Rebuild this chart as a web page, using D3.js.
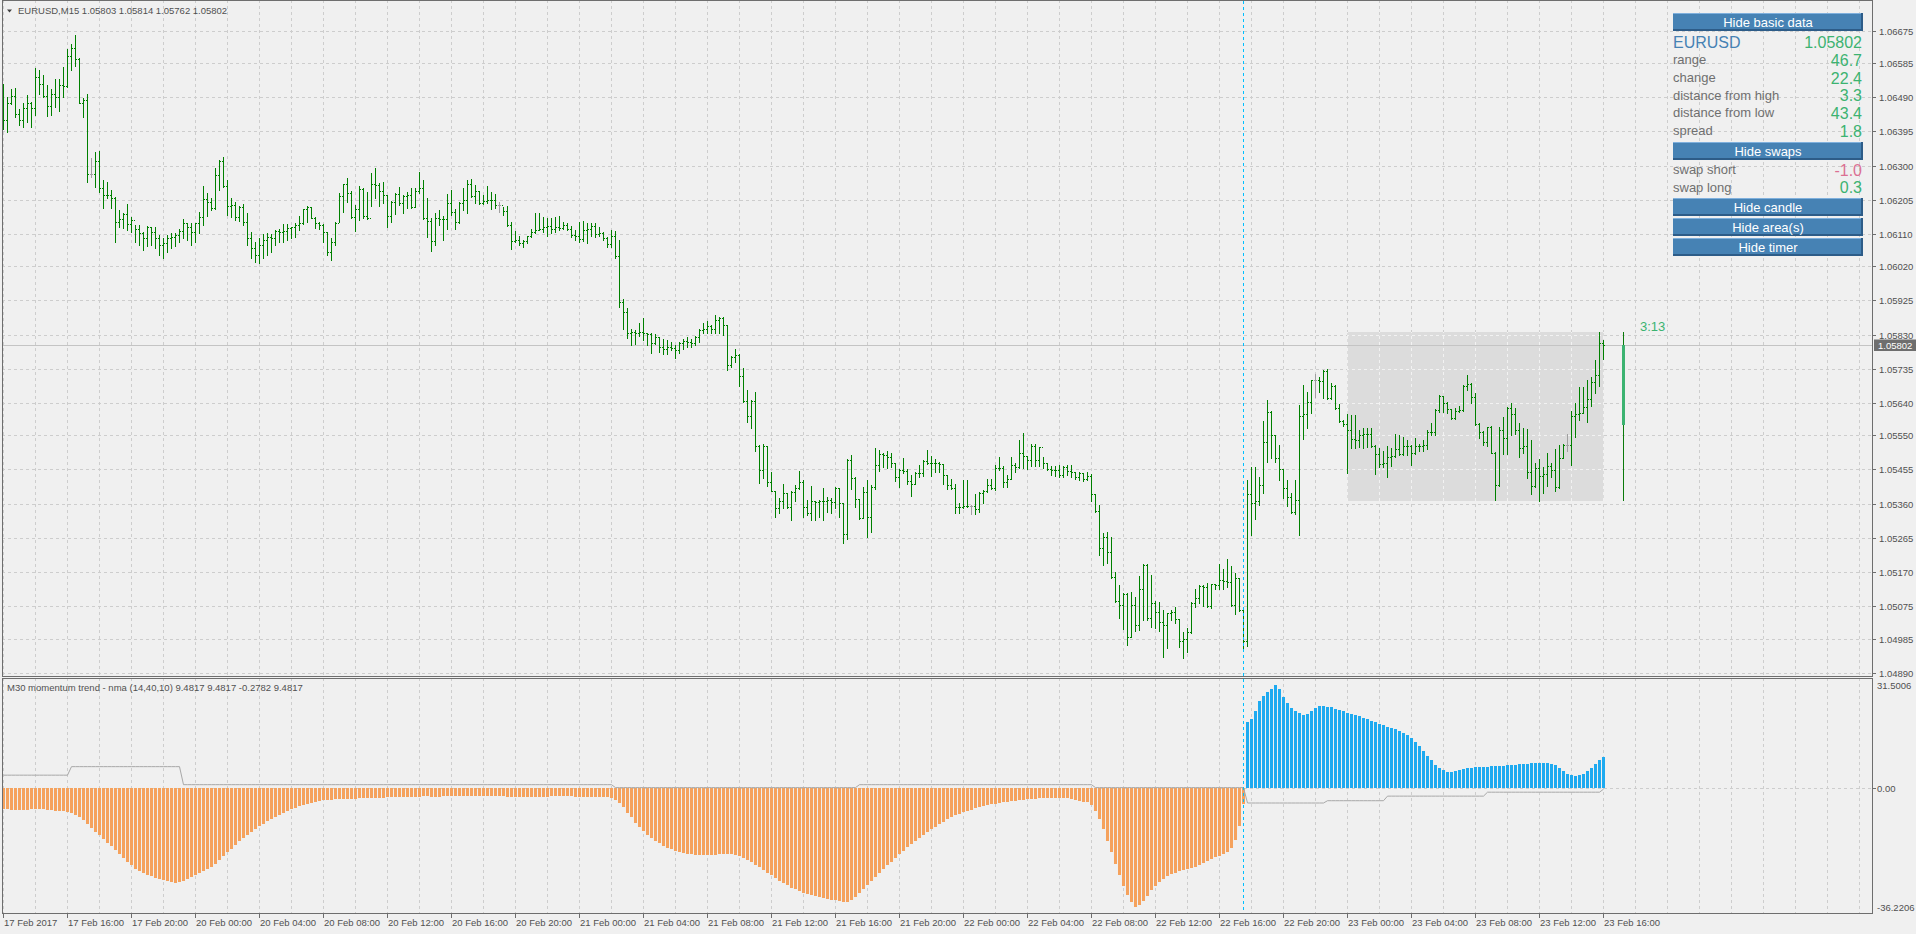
<!DOCTYPE html>
<html lang="en">
<head>
<meta charset="utf-8">
<title>EURUSD,M15</title>
<script src="https://cdn.jsdelivr.net/npm/d3@7/dist/d3.min.js"></script>
<style>
  body { margin: 0; background: #f0f0f0; overflow: hidden; }
  text { font-family: "Liberation Sans", Arial, sans-serif; }
  .ax { font-size: 9.5px; fill: #505050; }
</style>
</head>
<body>
<script>
// EURUSD M15 bars, 17 Feb 12:00 .. 23 Feb 16:00 (open of a bar = close of the previous one)
const firstOpen = 1.06430;
const highs = [
1.06526,1.06491,1.06513,1.06517,1.06457,1.06473,1.06495,1.06476,1.06572,1.06566,1.06552,1.06524,1.06513,1.06540,1.06540,1.06574,1.06624,1.06638,1.06663,1.06598,
1.06487,1.06499,1.06320,1.06337,1.06341,1.06260,1.06255,1.06232,1.06214,1.06177,1.06167,1.06192,1.06158,1.06135,1.06135,1.06116,1.06132,1.06130,1.06130,1.06107,
1.06098,1.06107,1.06112,1.06112,1.06123,1.06152,1.06141,1.06140,1.06141,1.06172,1.06243,1.06223,1.06209,1.06294,1.06316,1.06324,1.06260,1.06209,1.06200,1.06188,
1.06192,1.06167,1.06116,1.06088,1.06098,1.06109,1.06113,1.06111,1.06121,1.06123,1.06137,1.06137,1.06130,1.06139,1.06161,1.06180,1.06188,1.06186,1.06158,1.06142,
1.06137,1.06116,1.06098,1.06144,1.06223,1.06250,1.06265,1.06230,1.06190,1.06243,1.06239,1.06227,1.06280,1.06292,1.06251,1.06255,1.06218,1.06202,1.06223,1.06241,
1.06218,1.06227,1.06239,1.06237,1.06283,1.06260,1.06209,1.06153,1.06169,1.06176,1.06160,1.06220,1.06232,1.06178,1.06200,1.06239,1.06260,1.06264,1.06246,1.06230,
1.06218,1.06243,1.06226,1.06221,1.06200,1.06186,1.06188,1.06142,1.06118,1.06104,1.06093,1.06105,1.06123,1.06167,1.06169,1.06156,1.06153,1.06153,1.06158,1.06160,
1.06144,1.06139,1.06132,1.06121,1.06144,1.06146,1.06141,1.06141,1.06141,1.06130,1.06116,1.06101,1.06121,1.06119,1.06093,1.05928,1.05903,1.05847,1.05843,1.05863,
1.05875,1.05835,1.05834,1.05832,1.05824,1.05817,1.05815,1.05810,1.05801,1.05810,1.05817,1.05822,1.05817,1.05826,1.05845,1.05861,1.05869,1.05857,1.05885,1.05878,
1.05880,1.05857,1.05771,1.05789,1.05776,1.05736,1.05676,1.05648,1.05671,1.05523,1.05526,1.05520,1.05449,1.05396,1.05375,1.05415,1.05389,1.05396,1.05412,1.05451,
1.05426,1.05370,1.05409,1.05368,1.05370,1.05403,1.05379,1.05375,1.05405,1.05404,1.05361,1.05483,1.05495,1.05433,1.05372,1.05407,1.05426,1.05412,1.05514,1.05509,
1.05502,1.05506,1.05500,1.05474,1.05456,1.05486,1.05455,1.05440,1.05449,1.05467,1.05481,1.05509,1.05492,1.05484,1.05476,1.05470,1.05441,1.05429,1.05415,1.05361,
1.05426,1.05426,1.05356,1.05386,1.05393,1.05398,1.05429,1.05429,1.05467,1.05491,1.05465,1.05441,1.05489,1.05472,1.05537,1.05557,1.05492,1.05526,1.05526,1.05518,
1.05489,1.05474,1.05465,1.05465,1.05467,1.05465,1.05467,1.05467,1.05449,1.05449,1.05446,1.05449,1.05442,1.05387,1.05356,1.05279,1.05282,1.05268,1.05171,1.05134,
1.05111,1.05111,1.05115,1.05101,1.05159,1.05191,1.05192,1.05162,1.05090,1.05087,1.05064,1.05057,1.05064,1.05073,1.05038,1.05004,1.05013,1.05087,1.05122,1.05134,
1.05134,1.05140,1.05138,1.05138,1.05192,1.05177,1.05205,1.05187,1.05168,1.05154,1.05064,1.05426,1.05463,1.05463,1.05435,1.05591,1.05648,1.05619,1.05551,1.05523,
1.05455,1.05426,1.05389,1.05426,1.05634,1.05690,1.05671,1.05705,1.05720,1.05713,1.05732,1.05734,1.05695,1.05689,1.05636,1.05593,1.05610,1.05607,1.05607,1.05565,
1.05569,1.05569,1.05569,1.05523,1.05514,1.05506,1.05519,1.05514,1.05554,1.05551,1.05546,1.05537,1.05522,1.05542,1.05525,1.05537,1.05565,1.05585,1.05623,1.05662,
1.05660,1.05644,1.05624,1.05625,1.05632,1.05690,1.05718,1.05695,1.05667,1.05583,1.05562,1.05573,1.05576,1.05504,1.05574,1.05602,1.05628,1.05639,1.05627,1.05583,
1.05571,1.05567,1.05537,1.05474,1.05483,1.05463,1.05500,1.05474,1.05511,1.05523,1.05526,1.05554,1.05619,1.05641,1.05683,1.05684,1.05704,1.05711,1.05759,1.05838,
1.05814];
const lows = [
1.06402,1.06393,1.06472,1.06436,1.06413,1.06408,1.06420,1.06408,1.06441,1.06499,1.06490,1.06439,1.06441,1.06464,1.06453,1.06492,1.06519,1.06566,1.06578,1.06473,
1.06436,1.06255,1.06269,1.06241,1.06227,1.06183,1.06209,1.06183,1.06088,1.06130,1.06126,1.06121,1.06114,1.06088,1.06079,1.06065,1.06075,1.06079,1.06072,1.06051,
1.06042,1.06061,1.06070,1.06075,1.06088,1.06098,1.06093,1.06079,1.06088,1.06112,1.06135,1.06161,1.06177,1.06179,1.06232,1.06241,1.06163,1.06158,1.06149,1.06146,
1.06135,1.06079,1.06042,1.06033,1.06028,1.06042,1.06051,1.06061,1.06079,1.06088,1.06088,1.06093,1.06098,1.06102,1.06121,1.06137,1.06144,1.06153,1.06126,1.06124,
1.06088,1.06051,1.06037,1.06079,1.06144,1.06172,1.06200,1.06155,1.06119,1.06149,1.06153,1.06151,1.06188,1.06209,1.06188,1.06195,1.06130,1.06144,1.06165,1.06190,
1.06167,1.06183,1.06183,1.06186,1.06223,1.06151,1.06102,1.06063,1.06079,1.06135,1.06093,1.06124,1.06163,1.06124,1.06141,1.06176,1.06167,1.06213,1.06197,1.06193,
1.06193,1.06195,1.06178,1.06181,1.06172,1.06163,1.06133,1.06067,1.06088,1.06079,1.06074,1.06086,1.06101,1.06112,1.06121,1.06116,1.06104,1.06112,1.06116,1.06121,
1.06125,1.06121,1.06101,1.06093,1.06088,1.06091,1.06086,1.06104,1.06102,1.06104,1.06093,1.06074,1.06074,1.06042,1.05908,1.05847,1.05820,1.05801,1.05804,1.05826,
1.05815,1.05801,1.05780,1.05804,1.05783,1.05776,1.05776,1.05787,1.05764,1.05778,1.05789,1.05796,1.05796,1.05801,1.05810,1.05834,1.05835,1.05834,1.05834,1.05835,
1.05829,1.05733,1.05741,1.05755,1.05687,1.05644,1.05588,1.05569,1.05507,1.05418,1.05430,1.05409,1.05394,1.05324,1.05333,1.05347,1.05347,1.05315,1.05366,1.05400,
1.05324,1.05328,1.05315,1.05315,1.05324,1.05315,1.05338,1.05333,1.05347,1.05324,1.05251,1.05261,1.05400,1.05350,1.05316,1.05319,1.05268,1.05282,1.05400,1.05452,
1.05461,1.05458,1.05461,1.05424,1.05407,1.05446,1.05416,1.05381,1.05416,1.05433,1.05437,1.05470,1.05438,1.05449,1.05447,1.05414,1.05400,1.05401,1.05335,1.05335,
1.05347,1.05350,1.05331,1.05330,1.05338,1.05363,1.05393,1.05400,1.05398,1.05454,1.05407,1.05405,1.05428,1.05449,1.05458,1.05458,1.05457,1.05465,1.05465,1.05465,
1.05458,1.05454,1.05440,1.05437,1.05433,1.05433,1.05440,1.05433,1.05428,1.05426,1.05424,1.05426,1.05368,1.05338,1.05217,1.05189,1.05194,1.05152,1.05087,1.05041,
1.05011,1.04967,1.04990,1.05007,1.05009,1.05036,1.05036,1.05016,1.05013,1.05007,1.04934,1.04960,1.05036,1.05027,1.04962,1.04930,1.04948,1.05001,1.05072,1.05083,
1.05075,1.05074,1.05069,1.05124,1.05124,1.05122,1.05129,1.05076,1.05053,1.05062,1.04953,1.04964,1.05273,1.05317,1.05356,1.05389,1.05477,1.05486,1.05477,1.05426,
1.05375,1.05354,1.05335,1.05331,1.05273,1.05539,1.05570,1.05611,1.05656,1.05671,1.05653,1.05651,1.05651,1.05623,1.05586,1.05576,1.05446,1.05514,1.05514,1.05517,
1.05514,1.05517,1.05518,1.05442,1.05463,1.05463,1.05435,1.05465,1.05491,1.05495,1.05495,1.05495,1.05468,1.05499,1.05507,1.05507,1.05511,1.05551,1.05551,1.05616,
1.05616,1.05613,1.05595,1.05595,1.05616,1.05618,1.05676,1.05641,1.05579,1.05542,1.05523,1.05520,1.05500,1.05370,1.05409,1.05498,1.05497,1.05551,1.05553,1.05491,
1.05502,1.05430,1.05386,1.05407,1.05368,1.05391,1.05409,1.05435,1.05396,1.05403,1.05487,1.05506,1.05468,1.05544,1.05593,1.05612,1.05588,1.05632,1.05669,1.05688,
1.05762];
const closes = [
1.06426,1.06473,1.06494,1.06443,1.06426,1.06459,1.06473,1.06459,1.06545,1.06526,1.06494,1.06466,1.06500,1.06490,1.06524,1.06522,1.06605,1.06628,1.06596,1.06475,
1.06482,1.06276,1.06276,1.06313,1.06239,1.06218,1.06217,1.06209,1.06144,1.06151,1.06164,1.06137,1.06149,1.06124,1.06112,1.06098,1.06129,1.06114,1.06098,1.06079,
1.06084,1.06098,1.06102,1.06107,1.06119,1.06140,1.06129,1.06114,1.06140,1.06158,1.06207,1.06200,1.06181,1.06274,1.06313,1.06243,1.06188,1.06189,1.06158,1.06186,
1.06144,1.06098,1.06070,1.06051,1.06079,1.06093,1.06102,1.06098,1.06118,1.06116,1.06117,1.06126,1.06128,1.06135,1.06139,1.06178,1.06186,1.06155,1.06139,1.06135,
1.06116,1.06061,1.06088,1.06141,1.06215,1.06248,1.06225,1.06156,1.06179,1.06235,1.06160,1.06155,1.06248,1.06246,1.06230,1.06218,1.06160,1.06200,1.06221,1.06195,
1.06216,1.06218,1.06186,1.06230,1.06239,1.06153,1.06146,1.06091,1.06153,1.06152,1.06151,1.06197,1.06172,1.06144,1.06195,1.06204,1.06248,1.06215,1.06229,1.06197,
1.06202,1.06203,1.06204,1.06189,1.06189,1.06175,1.06135,1.06090,1.06093,1.06084,1.06090,1.06103,1.06116,1.06121,1.06125,1.06130,1.06132,1.06123,1.06128,1.06127,
1.06135,1.06125,1.06107,1.06104,1.06095,1.06121,1.06125,1.06132,1.06109,1.06112,1.06098,1.06081,1.06104,1.06049,1.05922,1.05894,1.05835,1.05838,1.05834,1.05838,
1.05834,1.05831,1.05806,1.05824,1.05795,1.05789,1.05795,1.05792,1.05787,1.05808,1.05813,1.05810,1.05808,1.05824,1.05843,1.05845,1.05854,1.05845,1.05872,1.05876,
1.05857,1.05745,1.05769,1.05773,1.05716,1.05646,1.05604,1.05646,1.05520,1.05454,1.05520,1.05421,1.05396,1.05347,1.05368,1.05389,1.05350,1.05393,1.05403,1.05421,
1.05350,1.05333,1.05366,1.05365,1.05368,1.05367,1.05370,1.05364,1.05403,1.05361,1.05277,1.05481,1.05430,1.05372,1.05321,1.05393,1.05324,1.05407,1.05467,1.05498,
1.05495,1.05489,1.05474,1.05433,1.05454,1.05451,1.05423,1.05414,1.05444,1.05446,1.05479,1.05472,1.05474,1.05472,1.05470,1.05441,1.05412,1.05403,1.05350,1.05352,
1.05353,1.05354,1.05354,1.05345,1.05390,1.05396,1.05412,1.05403,1.05458,1.05459,1.05421,1.05428,1.05467,1.05461,1.05502,1.05492,1.05481,1.05520,1.05481,1.05517,
1.05472,1.05456,1.05454,1.05453,1.05440,1.05463,1.05451,1.05449,1.05433,1.05444,1.05428,1.05437,1.05386,1.05340,1.05236,1.05268,1.05226,1.05157,1.05089,1.05078,
1.05109,1.04990,1.05078,1.05024,1.05122,1.05189,1.05043,1.05083,1.05060,1.05030,1.05022,1.05055,1.05060,1.05040,1.04978,1.04985,1.05004,1.05083,1.05097,1.05131,
1.05127,1.05075,1.05137,1.05134,1.05148,1.05145,1.05143,1.05078,1.05152,1.05064,1.04978,1.05386,1.05363,1.05366,1.05412,1.05531,1.05616,1.05551,1.05486,1.05455,
1.05403,1.05378,1.05338,1.05370,1.05604,1.05608,1.05644,1.05704,1.05704,1.05702,1.05730,1.05655,1.05687,1.05625,1.05591,1.05582,1.05565,1.05539,1.05537,1.05551,
1.05554,1.05555,1.05520,1.05497,1.05469,1.05472,1.05491,1.05493,1.05511,1.05497,1.05520,1.05519,1.05500,1.05520,1.05521,1.05523,1.05559,1.05560,1.05620,1.05658,
1.05641,1.05622,1.05597,1.05619,1.05620,1.05687,1.05693,1.05656,1.05581,1.05560,1.05532,1.05572,1.05502,1.05412,1.05565,1.05542,1.05625,1.05608,1.05565,1.05516,
1.05519,1.05447,1.05410,1.05460,1.05438,1.05443,1.05465,1.05453,1.05407,1.05488,1.05523,1.05523,1.05604,1.05608,1.05613,1.05628,1.05650,1.05698,1.05718,1.05808,
1.05802];

// momentum trend histogram (same bars)
const momentum = [
-6.2,-6.4,-6.5,-6.6,-6.7,-6.6,-6.5,-6.4,-6.3,-6.2,-6.3,-6.5,-6.7,-6.9,-7.0,-7.0,-7.2,-7.5,-8.2,-8.8,
-9.8,-10.8,-12.0,-13.2,-14.3,-15.4,-16.6,-17.7,-19.0,-20.2,-21.4,-22.4,-23.5,-24.6,-25.3,-25.9,-26.4,-26.9,-27.3,-27.7,
-28.0,-28.3,-28.6,-28.8,-28.7,-28.2,-27.6,-27.0,-26.5,-26.0,-25.4,-24.8,-24.0,-23.0,-22.0,-20.8,-19.6,-18.4,-17.3,-16.2,
-15.2,-14.2,-13.3,-12.4,-11.6,-10.8,-10.0,-9.3,-8.7,-8.1,-7.5,-6.9,-6.4,-5.9,-5.5,-5.1,-4.7,-4.4,-4.1,-3.9,
-3.7,-3.6,-3.5,-3.4,-3.4,-3.3,-3.3,-3.2,-3.2,-3.1,-3.1,-3.0,-3.0,-2.9,-2.9,-2.9,-2.8,-2.8,-2.8,-2.7,
-2.7,-2.7,-2.6,-2.6,-2.6,-2.5,-2.5,-2.6,-2.6,-2.6,-2.5,-2.5,-2.4,-2.4,-2.4,-2.3,-2.3,-2.3,-2.3,-2.4,
-2.4,-2.4,-2.4,-2.5,-2.5,-2.5,-2.6,-2.7,-2.7,-2.8,-2.8,-2.8,-2.7,-2.7,-2.6,-2.6,-2.6,-2.5,-2.5,-2.5,
-2.5,-2.5,-2.5,-2.6,-2.6,-2.6,-2.6,-2.6,-2.6,-2.7,-2.7,-2.8,-2.9,-3.5,-4.6,-5.8,-7.4,-8.8,-10.5,-11.8,
-13.1,-14.2,-15.2,-16.1,-16.8,-17.5,-18.1,-18.6,-19.1,-19.5,-19.8,-20.0,-20.2,-20.3,-20.4,-20.5,-20.5,-20.4,-20.3,-20.2,
-20.0,-20.0,-20.1,-20.3,-20.7,-21.2,-21.8,-22.5,-23.3,-24.1,-25.0,-25.8,-26.6,-27.4,-28.2,-28.9,-29.6,-30.3,-30.9,-31.4,
-31.9,-32.3,-32.7,-33.0,-33.3,-33.6,-33.8,-34.0,-34.2,-34.4,-34.6,-34.7,-34.2,-33.2,-32.0,-30.8,-29.6,-28.3,-27.0,-25.8,
-24.6,-23.5,-22.4,-21.3,-20.2,-19.1,-18.0,-17.0,-16.0,-15.1,-14.2,-13.3,-12.5,-11.7,-10.9,-10.2,-9.5,-8.9,-8.3,-7.8,
-7.3,-6.9,-6.5,-6.1,-5.8,-5.5,-5.2,-4.9,-4.7,-4.5,-4.3,-4.1,-3.9,-3.8,-3.6,-3.5,-3.4,-3.3,-3.2,-3.1,
-3.1,-3.0,-3.0,-3.0,-3.0,-3.1,-3.1,-3.2,-3.6,-3.9,-4.1,-4.2,-5.0,-7.0,-9.5,-12.5,-16.0,-19.5,-23.0,-26.5,
-29.8,-32.6,-34.8,-36.2206,-35.6,-34.3,-32.8,-31.2,-29.9,-28.7,-27.7,-26.9,-26.3,-25.8,-25.4,-25.0,-24.7,-24.3,-23.9,-23.4,
-22.9,-22.3,-21.7,-21.1,-20.6,-20.1,-19.4,-18.2,-15.8,-11.5,-4.8,20.2,21.3,23.5,26.5,28.3,29.3,30.2,31.5006,30.4,
28.0,25.9,24.4,23.6,22.9,22.5,22.7,23.5,24.4,25.1,25.0,24.7,24.9,24.3,23.9,23.5,23.1,22.8,22.5,22.0,
21.6,21.1,20.5,20.1,19.6,19.2,18.8,18.5,18.1,17.5,17.0,16.2,15.2,14.2,13.0,11.4,9.9,8.6,7.2,6.2,
5.5,5.0,5.0,5.3,5.6,5.9,6.1,6.3,6.4,6.5,6.6,6.6,6.7,6.8,6.8,6.9,7.0,7.1,7.2,7.3,
7.4,7.5,7.6,7.7,7.8,7.8,7.6,7.4,7.0,6.2,5.3,4.5,3.9,3.7,3.9,4.4,5.2,6.3,7.5,8.7,
9.4817];
// thin grey nma line: [first bar, last bar, value]
const nmaSteps = [[0,16,4.0],[17,44,6.6],[45,152,1.1],[153,213,0.2],[214,272,1.1],[273,310,0.2],
  [311,330,-4.5],[331,345,-3.8],[346,370,-2.4],[371,399,-1.2],[400,400,-0.2782]];

const priceTicks = [1.06675,1.06585,1.06490,1.06395,1.06300,1.06205,1.06110,1.06020,1.05925,1.05830,
  1.05735,1.05640,1.05550,1.05455,1.05360,1.05265,1.05170,1.05075,1.04985,1.04890];
const timeLabels = ["17 Feb 2017","17 Feb 16:00","17 Feb 20:00","20 Feb 00:00","20 Feb 04:00","20 Feb 08:00",
  "20 Feb 12:00","20 Feb 16:00","20 Feb 20:00","21 Feb 00:00","21 Feb 04:00","21 Feb 08:00","21 Feb 12:00",
  "21 Feb 16:00","21 Feb 20:00","22 Feb 00:00","22 Feb 04:00","22 Feb 08:00","22 Feb 12:00","22 Feb 16:00",
  "22 Feb 20:00","23 Feb 00:00","23 Feb 04:00","23 Feb 08:00","23 Feb 12:00","23 Feb 16:00"];
const labelEvery = 16;         // bars between time labels
const dayStart = 336;          // first bar of 23 Feb
const dayOpen = 1.05578;
const vlineBar = 310;
const bid = 1.05802;
const momLabels = [31.5006, 0, -36.2206];
const infoRows = [["range","46.7"],["change","22.4"],["distance from high","3.3"],["distance from low","43.4"],["spread","1.8"]];
const swapRows = [["swap short","-1.0"],["swap long","0.3"]];
const buttonLabels = ["Hide basic data","Hide swaps","Hide candle","Hide area(s)","Hide timer"];

//----------------------------------------------------------------
var W = 1916, H = 934;
var L = 2, R = 1872, mainB = 676, subT = 678, subB = 913;

var svg = d3.select("body").append("svg").attr("width", W).attr("height", H);
svg.append("rect").attr("width", W).attr("height", H).attr("fill", "#f0f0f0");

var defs = svg.append("defs");
defs.append("clipPath").attr("id", "cMain").append("rect").attr("x", L + 1).attr("y", 1).attr("width", R - L - 1).attr("height", mainB - 1);
defs.append("clipPath").attr("id", "cSub").append("rect").attr("x", L + 1).attr("y", subT + 1).attr("width", R - L - 1).attr("height", subB - subT - 1);

var N = closes.length;
var idx = d3.range(N);
var opens = idx.map(function(i){ return i === 0 ? firstOpen : closes[i - 1]; });

var x = d3.scaleLinear().domain([0, 400]).range([3, 1603]);
var yP = d3.scaleLinear().domain([1.04890, 1.06675]).range([672.7, 30.7]);
var yM = d3.scaleLinear().domain([-36.2206, 31.5006]).range([906.9, 685.1]);
var px = function(i){ return Math.round(x(i)); };
var py = function(v){ return Math.round(yP(v)); };

// grid
var gridBars = d3.range(0, 465, 8);
function vgrid(g, y0, y1, col) {
  g.selectAll(null).data(gridBars).join("line")
    .attr("x1", function(i){ return px(i) + 0.5; }).attr("x2", function(i){ return px(i) + 0.5; })
    .attr("y1", y0).attr("y2", y1)
    .attr("stroke", col).attr("stroke-dasharray", "3,3");
}
function hgridMain(g, col) {
  g.selectAll(null).data(priceTicks).join("line")
    .attr("x1", L).attr("x2", R)
    .attr("y1", function(d){ return py(d) + 0.5; }).attr("y2", function(d){ return py(d) + 0.5; })
    .attr("stroke", col).attr("stroke-dasharray", "3,3");
}
var gMain = svg.append("g").attr("clip-path", "url(#cMain)").attr("shape-rendering", "crispEdges");
vgrid(gMain, 0, mainB, "#cdcdcd");
hgridMain(gMain, "#cdcdcd");

// today's area
var dayHigh = d3.max(highs.slice(dayStart)), dayLow = d3.min(lows.slice(dayStart));
var ax0 = px(dayStart), ax1 = px(N - 1) + 1, ay0 = py(dayHigh), ay1 = py(dayLow);
gMain.append("rect").attr("x", ax0).attr("y", ay0).attr("width", ax1 - ax0).attr("height", ay1 - ay0).attr("fill", "#dcdcdc");
defs.append("clipPath").attr("id", "cArea").append("rect").attr("x", ax0).attr("y", ay0).attr("width", ax1 - ax0).attr("height", ay1 - ay0);
var gIn = gMain.append("g").attr("clip-path", "url(#cArea)");
vgrid(gIn, 0, mainB, "#f2f2f2");
hgridMain(gIn, "#f2f2f2");

// bid line
gMain.append("line").attr("x1", L).attr("x2", R).attr("y1", py(bid) + 0.5).attr("y2", py(bid) + 0.5).attr("stroke", "#c4c4c4");

// bars
var barCol = function(i){ return opens[i] === closes[i] ? "#a0a0a0" : "#008000"; };
gMain.selectAll("rect.hl").data(idx).join("rect").attr("class", "hl")
  .attr("x", px).attr("y", function(i){ return py(highs[i]); })
  .attr("width", 1).attr("height", function(i){ return Math.max(1, py(lows[i]) - py(highs[i]) + 1); })
  .attr("fill", barCol);
gMain.selectAll("rect.op").data(idx).join("rect").attr("class", "op")
  .attr("x", function(i){ return px(i) - 1; }).attr("y", function(i){ return py(opens[i]); })
  .attr("width", 1).attr("height", 1).attr("fill", barCol);
gMain.selectAll("rect.cl").data(idx).join("rect").attr("class", "cl")
  .attr("x", function(i){ return px(i) + 1; }).attr("y", function(i){ return py(closes[i]); })
  .attr("width", 1).attr("height", 1).attr("fill", barCol);

// daily candle to the right
var cx = px(N - 1 + 5);
gMain.append("rect").attr("x", cx).attr("y", py(dayHigh)).attr("width", 1).attr("height", py(dayLow) - py(dayHigh)).attr("fill", "#0a7a0a");
gMain.append("rect").attr("x", cx - 1).attr("y", py(closes[N - 1])).attr("width", 3).attr("height", py(dayOpen) - py(closes[N - 1])).attr("fill", "#3cb371");

// timer
svg.append("text").attr("x", 1640).attr("y", 331).attr("font-size", 13).attr("fill", "#3cb371").text("3:13");

// sub window
var gSub = svg.append("g").attr("clip-path", "url(#cSub)").attr("shape-rendering", "crispEdges");
vgrid(gSub, subT, subB, "#cdcdcd");
gSub.append("line").attr("x1", L).attr("x2", R).attr("y1", Math.round(yM(0)) + 0.5).attr("y2", Math.round(yM(0)) + 0.5)
  .attr("stroke", "#cdcdcd").attr("stroke-dasharray", "3,3");
var y0 = Math.round(yM(0));
gSub.selectAll("rect.h").data(idx).join("rect").attr("class", "h")
  .attr("x", function(i){ return px(i) - 1; }).attr("width", 3)
  .attr("y", function(i){ return Math.min(y0, Math.round(yM(momentum[i]))); })
  .attr("height", function(i){ return Math.abs(Math.round(yM(momentum[i])) - y0); })
  .attr("fill", function(i){ return momentum[i] >= 0 ? "#1eaaf0" : "#f5a25d"; });
var nma = idx.map(function(i){ return nmaSteps.find(function(s){ return i >= s[0] && i <= s[1]; })[2]; });
gSub.append("path").datum(idx)
  .attr("d", d3.line().x(function(i){ return px(i) + 0.5; }).y(function(i){ return yM(nma[i]); }))
  .attr("fill", "none").attr("stroke", "#a8a8a8").attr("stroke-width", 1).attr("shape-rendering", "auto");

// vertical dashed line
svg.append("line").attr("x1", px(vlineBar) + 0.5).attr("x2", px(vlineBar) + 0.5).attr("y1", 1).attr("y2", subB)
  .attr("stroke", "#00bfff").attr("stroke-dasharray", "3,3").attr("shape-rendering", "crispEdges");

// frames
var fr = svg.append("g").attr("fill", "none").attr("stroke", "#6e6e6e").attr("shape-rendering", "crispEdges");
fr.append("rect").attr("x", L + 0.5).attr("y", 0.5).attr("width", R - L).attr("height", mainB);
fr.append("rect").attr("x", L + 0.5).attr("y", subT + 0.5).attr("width", R - L).attr("height", subB - subT);

// price axis
var ay = svg.append("g");
ay.selectAll("line").data(priceTicks).join("line")
  .attr("x1", R).attr("x2", R + 4).attr("y1", function(d){ return py(d) + 0.5; }).attr("y2", function(d){ return py(d) + 0.5; })
  .attr("stroke", "#6e6e6e").attr("shape-rendering", "crispEdges");
ay.selectAll("text").data(priceTicks).join("text").attr("class", "ax")
  .attr("x", R + 7).attr("y", function(d){ return py(d) + 3.5; })
  .text(function(d){ return d.toFixed(5); });
svg.append("rect").attr("x", R + 2).attr("y", py(bid) - 5.5).attr("width", W - R - 2).attr("height", 11.5).attr("fill", "#6e6e6e");
svg.append("text").attr("class", "ax").attr("x", R + 6).attr("y", py(bid) + 3.5).attr("fill", "#ffffff").style("fill", "#ffffff").text(bid.toFixed(5));

// momentum axis
svg.selectAll("text.ml").data(momLabels).join("text").attr("class", "ax ml")
  .attr("x", R + 5).attr("y", function(d){ return Math.round(yM(d)) + 3.5; })
  .text(function(d){ return d === 0 ? "0.00" : d.toFixed(4); });
svg.append("line").attr("x1", R).attr("x2", R + 4).attr("y1", y0 + 0.5).attr("y2", y0 + 0.5).attr("stroke", "#6e6e6e");

// time axis
var tg = svg.append("g");
tg.selectAll("line").data(timeLabels).join("line")
  .attr("x1", function(d, k){ return px(k * labelEvery) + 0.5; }).attr("x2", function(d, k){ return px(k * labelEvery) + 0.5; })
  .attr("y1", subB).attr("y2", subB + 5).attr("stroke", "#6e6e6e").attr("shape-rendering", "crispEdges");
tg.selectAll("text").data(timeLabels).join("text").attr("class", "ax")
  .attr("x", function(d, k){ return px(k * labelEvery) + 1; }).attr("y", 926)
  .text(function(d){ return d; });

// headers
svg.append("path").attr("d", "M7,9.5L12,9.5L9.5,12.5Z").attr("fill", "#404040");
svg.append("text").attr("class", "ax").attr("x", 18).attr("y", 14).text("EURUSD,M15  1.05803 1.05814 1.05762 1.05802");
svg.append("text").attr("class", "ax").attr("x", 7).attr("y", 690.5).text("M30 momentum trend - nma (14,40,10) 9.4817 9.4817 -0.2782 9.4817");

// info panel
var bx0 = 1673, bx1 = 1863;
var btnY = [13, 141.5, 197.5, 217.5, 237.5];
buttonLabels.forEach(function(lb, k) {
  var g = svg.append("g").attr("shape-rendering", "crispEdges");
  var y = Math.round(btnY[k]);
  g.append("rect").attr("x", bx0).attr("y", y).attr("width", bx1 - bx0).attr("height", 18).attr("fill", "#4682b4");
  g.append("rect").attr("x", bx0).attr("y", y).attr("width", bx1 - bx0).attr("height", 1).attr("fill", "#7fb0dd");
  g.append("rect").attr("x", bx0).attr("y", y + 16).attr("width", bx1 - bx0).attr("height", 2).attr("fill", "#2d5c88");
  g.append("rect").attr("x", bx1 - 2).attr("y", y).attr("width", 2).attr("height", 18).attr("fill", "#2d5c88");
  svg.append("text").attr("x", (bx0 + bx1) / 2).attr("y", y + 13.5).attr("text-anchor", "middle")
    .attr("font-size", 13).attr("fill", "#ffffff").text(lb);
});
svg.append("text").attr("x", bx0).attr("y", 48).attr("font-size", 16).attr("fill", "#4682b4").text("EURUSD");
svg.append("text").attr("x", bx1 - 1).attr("y", 48).attr("font-size", 16).attr("fill", "#3cb371").attr("text-anchor", "end").text(closes[N - 1].toFixed(5));
function rows(list, y0r) {
  list.forEach(function(r, k) {
    var yb = y0r + k * 17.7;
    svg.append("text").attr("x", bx0).attr("y", yb).attr("font-size", 13).attr("fill", "#6f6f6f").text(r[0]);
    svg.append("text").attr("x", bx1 - 1).attr("y", yb + 1.5).attr("font-size", 16).attr("text-anchor", "end")
      .attr("fill", r[1].charAt(0) === "-" ? "#db7093" : "#3cb371").text(r[1]);
  });
}
rows(infoRows, 64.3);
rows(swapRows, 174);
</script>
</body>
</html>
